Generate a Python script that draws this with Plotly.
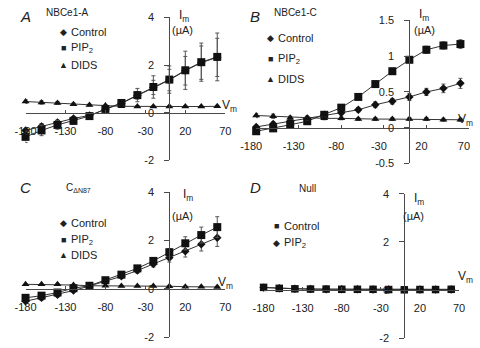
import plotly.graph_objects as go

W, H = 480, 348
vm = [-180, -160, -140, -120, -100, -80, -60, -40, -20, 0, 20, 40, 60]
x_ticks = [-180, -130, -80, -30, 20, 70]

# Panel A: NBCe1-A
a_ctrl = [-0.74, -0.57, -0.41, -0.24, -0.11, 0.14, 0.39, 0.72, 1.06, 1.37, 1.76, 2.10, 2.32]
a_ctrl_err = [0.12, 0.12, 0.10, 0.08, 0.06, 0.06, 0.08, 0.15, 0.30, 0.45, 0.60, 0.70, 0.80]
a_pip2 = [-1.01, -0.74, -0.51, -0.34, -0.14, 0.16, 0.41, 0.74, 1.08, 1.39, 1.78, 2.12, 2.34]
a_pip2_err = [0.24, 0.22, 0.18, 0.14, 0.10, 0.08, 0.10, 0.28, 0.47, 0.57, 0.80, 0.80, 1.00]
a_dids = [0.47, 0.43, 0.41, 0.36, 0.32, 0.30, 0.27, 0.26, 0.26, 0.26, 0.26, 0.26, 0.27]
a_dids_err = [0.08, 0.07, 0.06, 0.05, 0.04, 0.04, 0.04, 0.04, 0.04, 0.04, 0.04, 0.04, 0.04]

# Panel B: NBCe1-C
b_ctrl = [0.01, 0.05, 0.09, 0.13, 0.18, 0.21, 0.25, 0.32, 0.37, 0.43, 0.50, 0.55, 0.62]
b_ctrl_err = [0.03, 0.03, 0.03, 0.03, 0.03, 0.03, 0.03, 0.04, 0.04, 0.05, 0.05, 0.06, 0.07]
b_pip2 = [-0.05, -0.01, 0.04, 0.09, 0.18, 0.28, 0.43, 0.61, 0.79, 0.95, 1.09, 1.15, 1.17]
b_pip2_err = [0.03, 0.03, 0.03, 0.03, 0.03, 0.03, 0.03, 0.04, 0.04, 0.04, 0.05, 0.05, 0.06]
b_dids = [0.17, 0.16, 0.14, 0.13, 0.13, 0.13, 0.12, 0.12, 0.12, 0.12, 0.12, 0.11, 0.11]
b_dids_err = [0.03, 0.03, 0.02, 0.02, 0.02, 0.02, 0.02, 0.02, 0.02, 0.02, 0.02, 0.02, 0.02]

# Panel C: C-dN87
c_ctrl = [-0.51, -0.37, -0.24, -0.07, 0.12, 0.32, 0.52, 0.76, 1.03, 1.29, 1.56, 1.85, 2.12]
c_ctrl_err = [0.10, 0.10, 0.08, 0.06, 0.05, 0.06, 0.08, 0.10, 0.12, 0.18, 0.24, 0.28, 0.36]
c_pip2 = [-0.37, -0.28, -0.15, 0.03, 0.13, 0.36, 0.59, 0.85, 1.16, 1.52, 1.89, 2.23, 2.56]
c_pip2_err = [0.10, 0.10, 0.08, 0.06, 0.05, 0.06, 0.08, 0.10, 0.12, 0.15, 0.27, 0.33, 0.43]
c_dids = [0.19, 0.19, 0.19, 0.16, 0.13, 0.13, 0.12, 0.12, 0.12, 0.11, 0.09, 0.09, 0.08]
c_dids_err = [0.03, 0.03, 0.03, 0.03, 0.03, 0.03, 0.03, 0.03, 0.03, 0.03, 0.03, 0.03, 0.03]

# Panel D: Null
d_ctrl = [0.11, 0.07, 0.05, 0.04, 0.04, 0.03, 0.03, 0.03, 0.02, 0.01, 0.02, 0.02, 0.03]
d_pip2 = [0.10, 0.07, 0.05, 0.04, 0.03, 0.03, 0.03, 0.02, 0.02, 0.01, 0.02, 0.02, 0.02]

fig = go.Figure()

AX = "#4a4a4a"
LN = "#333333"
MK = "#111111"
FONT = "Liberation Sans, Arial, sans-serif"


def px(x):
    return x / W


def py(y):
    return 1 - y / H


panels = [
    ("", (10, 219.3), (160, 11.7), (-2, 4), [-2, 0, 2, 4], ["-2", "0", "2", "4"], 0,
     [(a_ctrl, a_ctrl_err, "diamond", 6.5, "Control"),
      (a_pip2, a_pip2_err, "square", 8, "PIP2"),
      (a_dids, a_dids_err, "triangle-up", 7, "DIDS")]),
    ("2", (251.7, 474.7), (163, 15), (-0.5, 1.5), [-0.5, 0, 0.5, 1, 1.5], ["-0.5", "0", "0.5", "1", "1.5"], -5,
     [(b_ctrl, b_ctrl_err, "diamond", 6.5, "Control"),
      (b_pip2, b_pip2_err, "square", 8, "PIP2"),
      (b_dids, b_dids_err, "triangle-up", 7, "DIDS")]),
    ("3", (10, 219.3), (343, 193), (-2, 4), [-2, 0, 2, 4], ["-2", "0", "2", "4"], 0,
     [(c_ctrl, c_ctrl_err, "diamond", 6.5, "Control"),
      (c_pip2, c_pip2_err, "square", 8, "PIP2"),
      (c_dids, c_dids_err, "triangle-up", 7, "DIDS")]),
    ("4", (259.5, 464.3), (344, 194.5), (-2, 4), [-2, 0, 2, 4], ["-2", "0", "2", "4"], 0,
     [(d_pip2, None, "diamond", 6.5, "PIP2"),
      (d_ctrl, None, "square", 7.5, "Control")]),
]

layout = dict(
    width=W, height=H, margin=dict(l=0, r=0, t=0, b=0),
    paper_bgcolor="white", plot_bgcolor="rgba(0,0,0,0)",
    showlegend=False, font=dict(family=FONT, size=11, color="#222"),
)

for name, (x0, x1), (yb, yt), yr, yt_vals, yt_text, shift, traces in panels:
    xd = [px(x0), px(x1)]
    yd = [py(yb), py(yt)]
    xfrac = (0 - (-180)) / (70 - (-180))
    yfrac = (0 - yr[0]) / (yr[1] - yr[0])
    layout["xaxis" + name] = dict(
        domain=xd, range=[-180, 70], anchor="free",
        position=yd[0] + yfrac * (yd[1] - yd[0]),
        showline=True, linecolor=AX, linewidth=1, showgrid=False, zeroline=False,
        ticks="inside", ticklen=3, tickcolor=AX, tickvals=x_ticks,
        ticktext=[str(v) for v in x_ticks], ticklabelstandoff=8,
        ticklabelshift=shift,
        tickfont=dict(family=FONT, size=11, color="#222"),
    )
    layout["yaxis" + name] = dict(
        domain=yd, range=list(yr), anchor="free",
        position=xd[0] + xfrac * (xd[1] - xd[0]),
        showline=True, linecolor=AX, linewidth=1, showgrid=False, zeroline=False,
        ticks="outside", ticklen=5, tickcolor=AX, tickvals=yt_vals, ticktext=yt_text,
        ticklabelstandoff=8,
        tickfont=dict(family=FONT, size=11, color="#222"),
    )
    for ys, err, sym, size, lab in traces:
        tr = dict(
            x=vm, y=ys, mode="lines+markers", name=lab,
            xaxis="x" + name, yaxis="y" + name, cliponaxis=False,
            line=dict(color=LN, width=1),
            marker=dict(symbol=sym, size=size, color=MK, line=dict(width=0)),
        )
        if err is not None:
            tr["error_y"] = dict(type="data", array=err, visible=True,
                                 color="#555", thickness=1, width=2)
        fig.add_trace(go.Scatter(**tr))

ann = []


def text(x, y, s, size=11, xanchor="left", italic=False):
    ann.append(dict(
        x=px(x), y=py(y), xref="paper", yref="paper", text=s, showarrow=False,
        xanchor=xanchor, yanchor="middle",
        font=dict(family=FONT, size=size, color="#222",
                  style="italic" if italic else "normal"),
    ))


# panel letters and titles
text(2, 11, "A", 15, italic=True)
text(243, 11, "B", 15, italic=True)
text(2, 188, "C", 15, italic=True)
text(243, 188, "D", 15, italic=True)
text(54, 7, "NBCe1-A", 10, xanchor="center")
text(293, 7, "NBCe1-C", 10, xanchor="center")
text(50, 188, "C<sub>ΔN87</sub>", 10)
text(295, 189, "Null", 10)

# axis labels
for (ix, iy, ux, uy, vx, vy) in [
    (169, 10, 174, 25, 214, 104),
    (420, 9, 428, 25, 461, 118),
    (173, 196, 175, 217, 210, 287),
    (415, 200, 417, 217, 461, 281),
]:
    text(ix, iy, "I<sub>m</sub>", 12)
    text(ux, uy, "(µA)", 11, xanchor="center")
    text(vx, vy, "V<sub>m</sub>", 12)

# legends
legends = [
    (50, [(27, "◆", "Control"), (44, "■", "PIP<sub>2</sub>"), (61, "▲", "DIDS")]),
    (267, [(33, "◆", "Control"), (55, "■", "PIP<sub>2</sub>"), (76, "▲", "DIDS")]),
    (50, [(225, "◆", "Control"), (242, "■", "PIP<sub>2</sub>"), (258, "▲", "DIDS")]),
    (273, [(228, "■", "Control"), (245, "◆", "PIP<sub>2</sub>")]),
]
for lx, items in legends:
    for ly, sym, lab in items:
        text(lx, ly, sym, 9, xanchor="center")
        text(lx + 6, ly, lab, 11)

layout["annotations"] = ann
fig.update_layout(**layout)
fig.write_html("out.html", config={"displayModeBar": False},
               post_script="document.body.style.margin='0';")
